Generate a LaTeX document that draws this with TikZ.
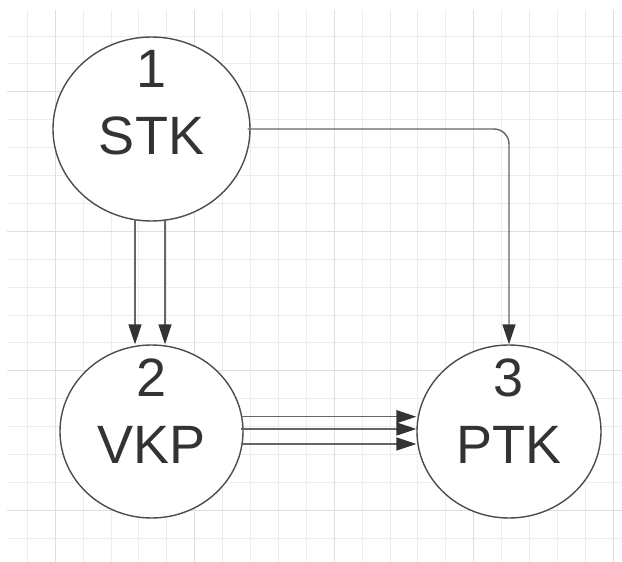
\documentclass[tikz,border=0pt]{standalone}
\usepackage{fontspec}
\setmainfont{Liberation Sans}
\usetikzlibrary{arrows.meta,shapes.geometric}
\newcommand{\statefont}{\fontsize{54}{67}\selectfont}
\tikzset{
  gridline/.style={draw=black!7, line width=1pt},
  gridmajor/.style={draw=black!13, line width=1pt},
  state/.style={draw=black!70, line width=1.4pt, ellipse, fill=white, inner sep=0pt},
  statetext/.style={font=\statefont, text=black!80, align=center, inner sep=0pt, anchor=north, yshift=-14pt},
  flow/.style={-{Triangle[length=20pt, width=13pt, color=black!80]}, draw=black!60, line width=1.4pt, shorten <=-3pt}
}

\begin{document}
\begin{tikzpicture}[x=1pt, y=-1pt]
  \useasboundingbox (0,0) rectangle (622,562);
  \foreach \i in {0,...,21}
    \draw[gridline] ({27.3+27.9*\i},10) -- ({27.3+27.9*\i},562);
  \foreach \j in {0,...,18}
    \draw[gridline] (7,{36+27.9*\j}) -- (622,{36+27.9*\j});
  \foreach \i in {1,6,11,16,21}
    \draw[gridmajor] ({27.3+27.9*\i},10) -- ({27.3+27.9*\i},562);
  \foreach \j in {2,7,12,17}
    \draw[gridmajor] (7,{36+27.9*\j}) -- (622,{36+27.9*\j});

  \node[state, minimum width=197pt, minimum height=184pt, label={[statetext]north:{1\\STK}}] (stk) at (151.5,129) {};
  \node[state, minimum width=183pt, minimum height=173pt, label={[statetext]north:{2\\VKP}}] (vkp) at (151.5,431.5) {};
  \node[state, minimum width=184pt, minimum height=173pt, label={[statetext]north:{3\\PTK}}] (ptk) at (509,431.5) {};

  \draw[flow] ([xshift=-16.5pt]stk.south) -- ([xshift=-16.5pt]vkp.north);
  \draw[flow] ([xshift=13.5pt]stk.south) -- ([xshift=13.5pt]vkp.north);
  \draw[flow, rounded corners=15pt] (stk.east) -| (ptk.north);
  \draw[flow] ([yshift=14.8pt]vkp.east) -- ([yshift=14.8pt]ptk.west);
  \draw[flow] ([yshift=2.5pt]vkp.east) -- ([yshift=2.5pt]ptk.west);
  \draw[flow] ([yshift=-12.5pt]vkp.east) -- ([yshift=-12.5pt]ptk.west);
\end{tikzpicture}
\end{document}
